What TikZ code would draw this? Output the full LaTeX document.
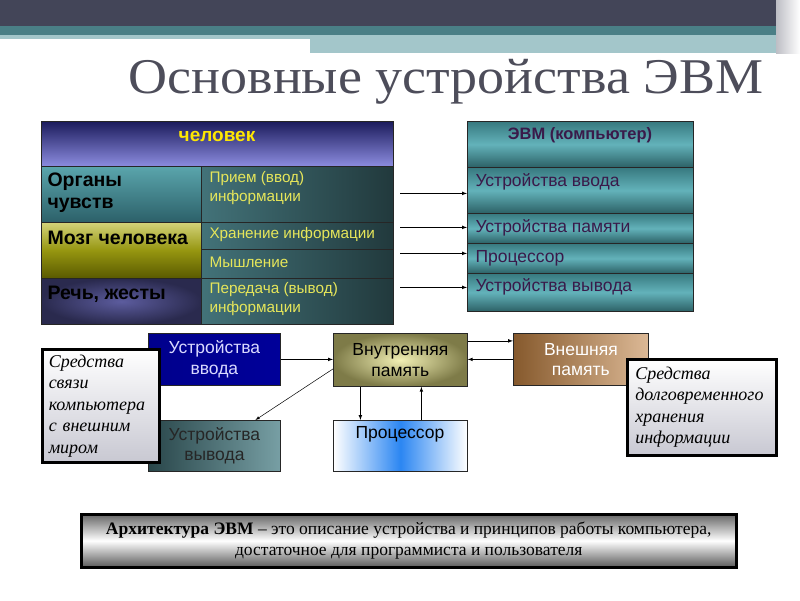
\documentclass[tikz,border=0pt]{standalone}
\usepackage{fontspec}
\setmainfont{Liberation Serif}
\setsansfont{Liberation Sans}
\newfontfamily\titlefont[FakeStretch=1.08]{Liberation Serif}
\usetikzlibrary{positioning}

\definecolor{bardark}{HTML}{434558}
\definecolor{barteal}{HTML}{4A7F86}
\definecolor{barlight}{HTML}{A3C6CA}
\definecolor{titlegray}{HTML}{4D4D5A}
\definecolor{hdrtop}{HTML}{1C1C5C}
\definecolor{hdrbot}{HTML}{8C8CE0}
\definecolor{textyellow}{HTML}{E6E65A}
\definecolor{evmteal}{HTML}{37797F}
\definecolor{evmlight}{HTML}{63B2BA}
\definecolor{evmtext}{HTML}{3A1A4A}
\definecolor{notegray}{HTML}{C8C8D2}
\definecolor{olivein}{HTML}{F2F0B4}
\definecolor{oliveout}{HTML}{7E7B48}
\definecolor{navyin}{HTML}{5C5C9E}
\definecolor{navyout}{HTML}{2A2A4E}
\definecolor{cpublue}{HTML}{2B86F2}
\definecolor{tealtop}{HTML}{5AA5AC}
\definecolor{tealbot}{HTML}{2C6069}

\tikzset{
  cell/.style={draw=black!85, line width=0.8pt, anchor=north west, inner sep=0pt},
  darkcell/.style={cell, left color=barteal!90!black, right color=barteal!45!black},
  evmcell/.style={cell, top color=evmteal, bottom color=evmteal!80!black, middle color=evmlight, minimum width=226pt},
  note/.style={draw=black, line width=2.5pt, anchor=north west, top color=white, bottom color=notegray,
    font=\itshape\fontsize{18}{21.5}\selectfont, align=left, inner sep=0pt},
  boldtxt/.style={font=\sffamily\bfseries\fontsize{19.5}{22}\selectfont, anchor=west, align=left},
  yelltxt/.style={font=\sffamily\fontsize{15.3}{19}\selectfont, text=textyellow, anchor=west, align=left},
  evmtxt/.style={font=\sffamily\fontsize{17.5}{20}\selectfont, text=evmtext, anchor=west},
  boxtxt/.style={font=\sffamily\fontsize{17.5}{20.5}\selectfont, align=center},
  arr/.style={-latex, line width=0.7pt},
}

\begin{document}
\begin{tikzpicture}[x=1pt, y=-1pt]
    \useasboundingbox (0,0) rectangle (800,600);

    % Title bars
    \fill[bardark] (0,0) rectangle (800,26);
    \fill[barteal] (0,26) rectangle (800,35);
    \fill[barlight] (0,35) rectangle (310,39);
    \fill[barlight] (310,35) rectangle (780,53);
    \shade[left color=bardark!35!white, right color=white] (776,0) rectangle (800,53);

    % Title
    \node[font=\titlefont\fontsize{50}{50}\selectfont, text=titlegray, anchor=base] (title) at (446,93) {Основные устройства ЭВМ};

    % Left table: the man
    \node[cell, top color=hdrtop, bottom color=hdrbot, minimum width=352pt, minimum height=45pt] (hdr) at (41,121) {};
    \node[cell, top color=tealtop, bottom color=tealbot, minimum width=160pt, minimum height=56pt] (org) at (41,166) {};
    \node[darkcell, minimum width=192pt, minimum height=56pt] (priem) at (201,166) {};
    \node[cell, top color=olive!35!white, bottom color=olive!70!black, minimum width=160pt, minimum height=56pt] (mozg) at (41,222) {};
    \node[darkcell, minimum width=192pt, minimum height=27pt] (hran) at (201,222) {};
    \node[darkcell, minimum width=192pt, minimum height=29pt] (mysl) at (201,249) {};
    \node[cell, shading=radial, inner color=navyin, outer color=navyout, minimum width=160pt, minimum height=46pt] (rech) at (41,278) {};
    \node[darkcell, minimum width=192pt, minimum height=46pt] (pered) at (201,278) {};

    % Labels of the left table
    \node[font=\sffamily\bfseries\fontsize{19}{20}\selectfont, text=yellow!90!orange] (hdrT) at (217,136) {человек};
    \node[boldtxt] (orgT) at (44,193) {Органы\\чувств};
    \node[boldtxt] (mozgT) at (44,238) {Мозг человека};
    \node[boldtxt] (rechT) at (44,294) {Речь, жесты};
    \node[yelltxt] (priemT) at (206,188) {Прием (ввод)\\информации};
    \node[yelltxt] (hranT) at (206,235) {Хранение информации};
    \node[yelltxt] (myslT) at (206,262) {Мышление};
    \node[yelltxt] (peredT) at (206,299) {Передача (вывод)\\информации};

    % Right table: the computer
    \node[evmcell, minimum height=46pt] (evm) at (467,121) {};
    \node[evmcell, minimum height=46pt] (vvod) at (467,167) {};
    \node[evmcell, minimum height=30pt] (pam) at (467,213) {};
    \node[evmcell, minimum height=30pt] (proc) at (467,243) {};
    \node[evmcell, minimum height=38pt] (vyv) at (467,273) {};

    \node[font=\sffamily\bfseries\fontsize{16.5}{18}\selectfont, text=evmtext] (evmT) at (580,135) {ЭВМ (компьютер)};
    \node[evmtxt] (vvodT) at (472,182) {Устройства ввода};
    \node[evmtxt] (pamT) at (472,228) {Устройства памяти};
    \node[evmtxt] (procT) at (472,258) {Процессор};
    \node[evmtxt] (vyvT) at (472,287) {Устройства вывода};

    % Arrows between the tables
    \foreach \n/\s in {vvod/-3,pam/1,proc/5,vyv/5}
        \draw[arr] ([yshift=\s pt]\n.west) ++(-67,0) -- ([yshift=\s pt]\n.west);

    % Lower scheme
    \node[cell, left color=blue!55!black, right color=blue!60!black, minimum width=132pt, minimum height=52pt, boxtxt, text=blue!15!white] (invvod) at (148,333) {Устройства\\ввода};
    \node[cell, left color=barteal!55!black, right color=barteal!75!white, minimum width=132pt, minimum height=51pt, boxtxt, text=black!85] (invyv) at (148,420) {Устройства\\вывода};
    \node[note, minimum width=117pt, minimum height=113pt, text width=104pt] (sv1) at (41,348) {Средства\\связи\\компьютера\\с внешним\\миром};

    \node[cell, shading=radial, inner color=olivein, outer color=oliveout, minimum width=134pt, minimum height=53pt, boxtxt] (vnutr) at (333,333) {Внутренняя\\память};
    \node[cell, left color=brown!70!black, right color=brown!55!white, minimum width=135pt, minimum height=52pt, boxtxt, text=white] (vnesh) at (513,333) {Внешняя\\память};
    \node[note, minimum width=149pt, minimum height=96pt, text width=133pt] (sv2) at (626,358) {Средства\\долговременного\\хранения\\информации};

    \node[cell, left color=white, right color=white, middle color=cpublue, minimum width=134pt, minimum height=51pt] (cpu) at (333,420) {};
    \node[boxtxt] (cpuT) at (400,434) {Процессор};

    \draw[arr] (invvod.east) -- (invvod.east -| vnutr.west);
    \draw[arr, line width=0.5pt] ([yshift=-9pt]vnutr.west) -- ([xshift=41pt]invyv.north);
    \draw[arr] ([yshift=19pt]vnutr.east) -- ([yshift=19pt]vnutr.east -| vnesh.west);
    \draw[arr] (vnesh.west) -- (vnesh.west -| vnutr.east);
    \draw[arr] ([xshift=-40pt]vnutr.south) -- ([xshift=-40pt]cpu.north);
    \draw[arr] ([xshift=21pt]cpu.north) -- ([xshift=21pt]vnutr.south);

    % Definition at the bottom
    \node[draw=black, line width=2.5pt, anchor=north west, top color=black!60, bottom color=black!65, middle color=white,
        minimum width=655pt, minimum height=53pt, align=center, font=\fontsize{17.5}{21}\selectfont] (arch) at (80,513)
        {\textbf{Архитектура ЭВМ} -- это описание устройства и принципов работы компьютера,\\достаточное для программиста и пользователя};
\end{tikzpicture}
\end{document}
